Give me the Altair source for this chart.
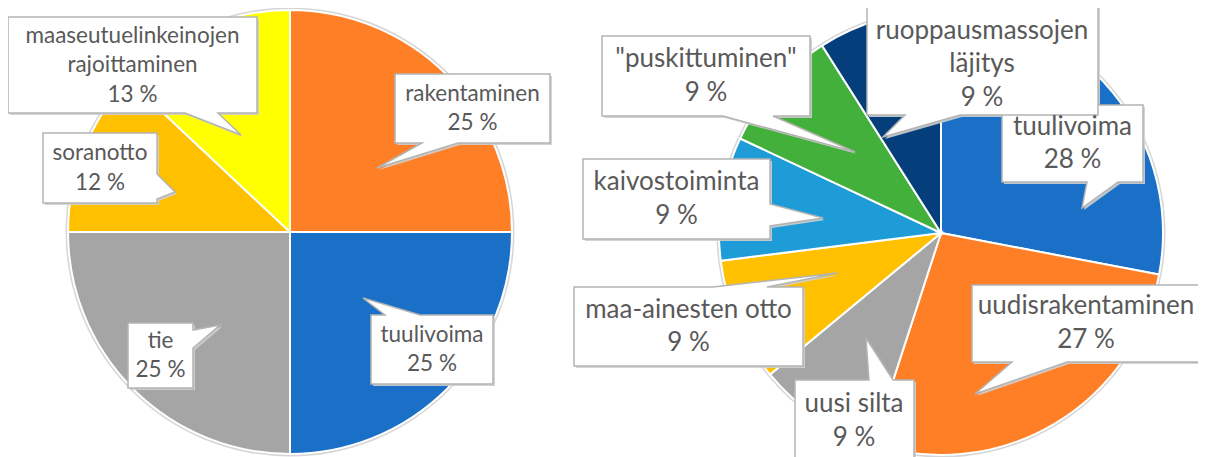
import altair as alt
import pandas as pd

# ---------------- data ----------------
left_categories = ["rakentaminen", "tuulivoima", "tie", "soranotto",
                   "maaseutuelinkeinojen rajoittaminen"]
left_values = [25, 25, 25, 12, 13]
left_label_lines = ["rakentaminen", "tuulivoima", "tie", "soranotto",
                    "maaseutuelinkeinojen\nrajoittaminen"]

right_categories = ["tuulivoima", "uudisrakentaminen", "uusi silta",
                    "maa-ainesten otto", "kaivostoiminta", "\"puskittuminen\"",
                    "ruoppausmassojen läjitys"]
right_values = [28, 27, 9, 9, 9, 9, 9]
right_label_lines = ["tuulivoima", "uudisrakentaminen", "uusi silta",
                     "maa-ainesten otto", "kaivostoiminta", "\"puskittuminen\"",
                     "ruoppausmassojen\nläjitys"]

# ---------------- styles ----------------
left_colors = ["#FF7F27", "#1A70C6", "#A5A5A5", "#FFC000", "#FFFF00"]
right_colors = ["#1A70C6", "#FF7F27", "#A5A5A5", "#FFC000", "#1E9CD8",
                "#44B03C", "#043F7C"]
FONT = "Lato"
TEXT_COLOR = "#595959"
BOX_STROKE = "#B4B4B4"

# ---------------- layout (page pixel coords) ----------------
OFF = 8  # page margin
R = 222
left_center = (290, 232)
right_center = (941, 233)
left_font, left_lh = 22.5, 29.5
right_font, right_lh = 26, 33.5

# callout: box (x0,y0,x1,y1), pointer side, pointer base (a,b), tip (tx,ty), optional text center
left_callouts = [
    dict(box=(395, 74, 550, 143), side="bottom", base=(422, 458), tip=(377, 168)),
    dict(box=(371, 315, 493, 384), side="top", base=(385, 420), tip=(363, 298)),
    dict(box=(128, 323, 193, 388), side="right", base=(330, 348), tip=(220, 325)),
    dict(box=(43, 133, 157, 203), side="right", base=(174, 199), tip=(175, 192)),
    dict(box=(8, 17, 257, 113), side="bottom", base=(185, 218), tip=(241, 135)),
]
right_callouts = [
    dict(box=(1002, 105, 1143, 182), side="bottom", base=(1087, 1118), tip=(1082, 208)),
    dict(box=(972, 285, 1214, 362), side="bottom", base=(1012, 1067), tip=(975, 394), text=(1086, 323)),
    dict(box=(795, 380, 914, 470), side="top", base=(869, 893), tip=(866, 338), text=(854, 421)),
    dict(box=(574, 287, 803, 366), side="top", base=(713, 767), tip=(838, 273)),
    dict(box=(583, 159, 770, 239), side="right", base=(204, 226), tip=(823, 218)),
    dict(box=(602, 36, 810, 116), side="bottom", base=(723, 773), tip=(855, 152)),
    dict(box=(867, -10, 1098, 115), side="bottom", base=(905, 960), tip=(883, 137), text=(982, 64)),
]


def callout_path(c):
    x0, y0, x1, y1 = c["box"]
    a, b = c["base"]
    tx, ty = c["tip"]
    side = c["side"]
    cx, cy = (x0 + x1) / 2, (y0 + y1) / 2
    pts = [(x0, y0)]
    if side == "top":
        pts += [(a, y0), (tx, ty), (b, y0)]
    pts.append((x1, y0))
    if side == "right":
        pts += [(x1, a), (tx, ty), (x1, b)]
    pts.append((x1, y1))
    if side == "bottom":
        pts += [(b, y1), (tx, ty), (a, y1)]
    pts.append((x0, y1))
    if side == "left":
        pts += [(x0, b), (tx, ty), (x0, a)]
    return "M" + "L".join(f"{x - cx:.1f},{y - cy:.1f}" for x, y in pts) + "Z", cx, cy


def pie_layers(categories, values, lines, colors, center, callouts, fsize, lh):
    df = pd.DataFrame({"cat": categories, "value": values, "idx": list(range(len(values)))})
    cx, cy = center[0] - OFF, center[1] - OFF
    base = alt.Chart(df).encode(
        theta=alt.Theta("value:Q", stack=True),
        order=alt.Order("idx:Q"),
        x=alt.value(cx), y=alt.value(cy),
    )
    ring = base.mark_arc(outerRadius=R + 2.5, fill="#D6D6D6", strokeWidth=0)
    arcs = base.mark_arc(outerRadius=R, stroke="white", strokeWidth=2).encode(
        fill=alt.Fill("cat:N", scale=alt.Scale(domain=categories, range=colors), legend=None)
    )
    rows = []
    for name, v, c in zip(lines, values, callouts):
        path, bx, by = callout_path(c)
        tcx, tcy = c.get("text", (bx, by))
        label = f"{name}\n{v} %"
        n = label.count("\n") + 1
        rows.append(dict(path=path, bx=bx - OFF, by=by - OFF,
                         tx=tcx - OFF, ty=tcy - OFF - (n - 1) * lh / 2, label=label))
    cdf = pd.DataFrame(rows)
    shadow = alt.Chart(cdf).mark_point(
        filled=True, fill="#CFCFCF", opacity=0.9, size=4, strokeWidth=0
    ).encode(
        x=alt.X("bx:Q", scale=None), y=alt.Y("by:Q", scale=None),
        shape=alt.Shape("path:N", scale=None, legend=None),
        xOffset=alt.value(2), yOffset=alt.value(2),
    )
    boxes = alt.Chart(cdf).mark_point(
        filled=True, fill="white", stroke=BOX_STROKE, strokeWidth=1.5,
        opacity=1, size=4
    ).encode(
        x=alt.X("bx:Q", scale=None), y=alt.Y("by:Q", scale=None),
        shape=alt.Shape("path:N", scale=None, legend=None),
    )
    texts = alt.Chart(cdf).mark_text(
        font=FONT, fontSize=fsize, lineHeight=lh, lineBreak="\n",
        color=TEXT_COLOR, align="center", baseline="middle"
    ).encode(
        x=alt.X("tx:Q", scale=None), y=alt.Y("ty:Q", scale=None),
        text="label:N",
    )
    return [ring, arcs, shadow, boxes, texts]


layers = (pie_layers(left_categories, left_values, left_label_lines, left_colors,
                     left_center, left_callouts, left_font, left_lh)
          + pie_layers(right_categories, right_values, right_label_lines, right_colors,
                       right_center, right_callouts, right_font, right_lh))

chart = alt.layer(*layers).resolve_scale(fill="independent", theta="independent").properties(
    width=1190, height=449, autosize="none", padding=0
).configure_view(stroke=None)

chart.save("out.html", embed_options={"renderer": "svg", "actions": False})
